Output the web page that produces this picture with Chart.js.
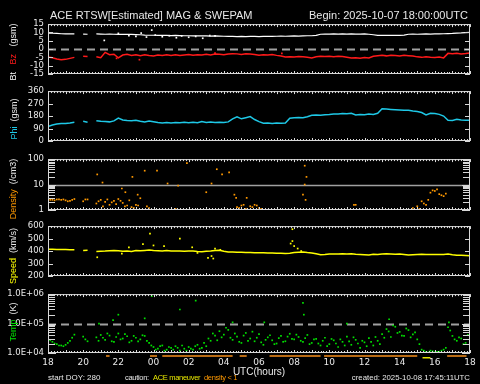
<!DOCTYPE html>
<html>
<head>
<meta charset="utf-8">
<script src="https://cdn.jsdelivr.net/npm/chart.js@4.4.1/dist/chart.umd.min.js"></script>
<style>
html, body { margin: 0; padding: 0; background: #000; }
#wrap { position: relative; width: 480px; height: 384px; overflow: hidden; background: #000;
        font-family: "Liberation Sans", Arial, sans-serif; color: #e8e8e8; }
canvas { position: absolute; left: 0; }
.t { position: absolute; white-space: pre; line-height: 1; }
.k { letter-spacing: -0.3px; font-size: 7.5px; }
.yl { position: absolute; white-space: pre; line-height: 1; font-size: 9px;
      transform: translate(-50%, -50%) rotate(-90deg); }
</style>
</head>
<body>
<div id="wrap">
  <canvas id="pMag"></canvas>
  <canvas id="pPhi"></canvas>
  <canvas id="pDen"></canvas>
  <canvas id="pSpd"></canvas>
  <canvas id="pTmp"></canvas>

  <div class="t" style="left:50px; top:10px; font-size:11px;">ACE RTSW[Estimated] MAG &amp; SWEPAM</div>
  <div class="t" style="right:12px; top:10px; font-size:11px;">Begin: 2025-10-07 18:00:00UTC</div>

  <div class="yl" style="left:13px; top:52px;"><span style="color:#fff">Bt</span>   <span style="color:#ff1a1a">Bz</span>   (gsm)</div>
  <div class="yl" style="left:14px; top:119px;"><span style="color:#1ec8e6">Phi</span>  (gsm)</div>
  <div class="yl" style="left:13px; top:189px;"><span style="color:#ff9900">Density</span>  (/cm3)</div>
  <div class="yl" style="left:13px; top:256px;"><span style="color:#ffff00">Speed</span>  (km/s)</div>
  <div class="yl" style="left:13px; top:322px;"><span style="color:#00e000">Temp</span>  (K)</div>

  <div class="t" style="left:259px; top:367px; font-size:10px; transform:translateX(-50%);">UTC(hours)</div>
  <div class="t" style="left:48px; top:374px; font-size:8px;">start DOY: 280</div>
  <div class="t k" style="left:125px; top:374px;">caution:</div>
  <div class="t k" style="left:153px; top:374px; color:#e6e600;">ACE maneuver</div>
  <div class="t k" style="left:204px; top:374px; color:#ff9900;">density &lt; 1</div>
  <div class="t" style="right:10px; top:374px; font-size:7.8px;">created: 2025-10-08 17:45:11UTC</div>
</div>

<script>
// hours after 2025-10-07 18:00 UTC; samples every 15 min
const STEP_H = 0.25;
const HALF_STEP = 0.125;

const xTickHours = [0, 2, 4, 6, 8, 10, 12, 14, 16, 18, 20, 22, 24];
const xTickLabels = ['18', '20', '22', '00', '02', '04', '06', '08', '10', '12', '14', '16', '18'];

const magTicks = [-15, -10, -5, 0, 5, 10, 15];
const phiTicks = [0, 90, 180, 270, 360];
const densityTicks = [1, 10, 100];
const densityMinor = [2, 3, 4, 5, 6, 7, 8, 9, 20, 30, 40, 50, 60, 70, 80, 90];
const speedTicks = [200, 300, 400, 500, 600];
const tempTicks = [1e4, 1e5, 1e6];
const tempTickLabels = ['1.0E+04', '1.0E+05', '1.0E+06'];
const tempMinor = [2e4, 3e4, 4e4, 5e4, 6e4, 7e4, 8e4, 9e4, 2e5, 3e5, 4e5, 5e5, 6e5, 7e5, 8e5, 9e5];

// Bt (nT)
const btVals = [9.6, 9.5, 9.4, 9.2, 9.1, 9.2, 9.1, null, 9.0, 8.9, null, 9.1,
  9.0, 8.9, 9.0, 8.9, 8.8, 8.9, 8.8, 8.8, 8.7, 8.6, 8.4, 8.3,
  8.3, 8.2, 8.3, 8.2, 8.1, 8.2, 8.1, 8.0, 8.0, 7.9, 8.0, 7.9,
  7.9, 7.8, 7.9, 7.8, 7.7, 7.6, 7.6, 7.5, 7.6, 7.5, 7.6, 7.6,
  7.5, 7.6, 7.7, 7.6, 7.7, 7.8, 7.7, 7.8, 7.9, 7.8, 7.9, 8.0,
  8.0, 8.2, 8.9, 9.0, 9.0, 9.1, 9.0, 9.1, 9.0, 9.1, 9.0, 9.0,
  9.1, 8.9, 8.6, 8.2, 8.2, 8.3, 8.2, 8.3, 8.2, 8.4, 8.9, 9.0,
  8.9, 9.0, 9.1, 9.0, 9.1, 9.1, 9.2, 9.3, 9.4, 9.6, 9.7, 9.9, 10.0];
// Bz gsm (nT)
const bzVals = [-4.7, -5.2, -6.0, -6.4, -6.2, -5.6, -5.0, null, -4.3, -4.5, null, -4.6,
  -5.2, -2.0, -3.4, -3.1, -5.3, -3.6, -3.2, -3.8, -3.4, -4.0, -3.5, -3.9,
  -4.2, -3.6, -3.9, -3.5, -3.8, -3.4, -3.9, -3.6, -3.3, -3.7, -3.4, -3.6,
  -3.2, -3.5, -3.0, -3.1, -3.4, -3.0, -2.8, -2.9, -3.2, -2.8, -3.0, -3.3,
  -3.7, -3.4, -3.6, -3.3, -3.8, -4.2, -4.8, -4.6, -4.8, -4.5, -4.7, -4.9,
  -5.4, -4.6, -4.4, -4.5, -4.3, -4.6, -4.4, -4.5, -4.9, -5.4, -5.2, -5.5,
  -5.1, -5.4, -4.3, -4.0, -3.8, -4.1, -3.7, -3.9, -4.2, -3.8, -4.0, -4.2,
  -4.7, -5.0, -4.6, -4.9, -5.1, -4.8, -5.3, -2.6, -2.8, -2.5, -2.9, -2.7, -2.4];
const btStray = [[3.2, 5.2], [4.0, 9.4], [4.6, 8.1], [5.0, 7.6], [5.3, 9.6], [5.6, 7.2], [5.9, 11.4],
  [6.1, 8.4], [6.5, 7.4], [6.9, 8.0], [7.3, 6.8], [7.6, 7.9], [8.0, 7.1], [8.4, 7.6], [8.8, 6.5],
  [9.2, 8.1], [9.5, 7.9]];
const bzStray = [[3.9, -5.6], [5.2, -6.4], [9.5, -2.4], [13.3, -2.6]];

// Phi gsm (deg)
const phiVals = [105, 115, 122, 127, 126, 130, 136, null, 142, 135, null, 146,
  142, 140, 138, 145, 165, 152, 148, 146, 150, 143, 138, 145,
  139, 133, 130, 133, 130, 134, 131, 135, 132, 135, 132, 140,
  134, 137, 133, 136, 133, 138, 160, 175, 160, 168, 176, 155,
  140, 128, 130, 127, 129, 128, 130, 165, 168, 170, 168, 175,
  185, 188, 186, 190, 192, 195, 194, 198, 197, 200, 188, 192,
  190, 195, 192, 200, 232, 230, 228, 226, 224, 222, 221, 216,
  212, 205, 188, 200, 198, 192, 180, 150, 148, 156, 152, 150, 150];

// proton density (/cm3); 0.5 = below the plotted range
const densA = [2.4, 2.5, 2.6, 2.5, 2.4, 2.3, 2.7, null, 2.2, 2.6, null, 1.8,
  2.5, 2.1, 1.6, 2.3, 2.7, 1.9, 1.5, 1.3, 1.6, 2.9, 0.5, 1.2,
  0.5, 0.5, 0.5, 0.5, 0.5, 1.1, 0.5, 0.5, 0.5, 0.5, 0.5, 0.5,
  0.5, 0.5, 0.5, 0.5, 0.5, 0.5, 0.5, 1.3, 1.5, 1.1, 1.4, 1.6,
  1.2, 1.0, 0.5, 0.5, 0.5, 0.5, 0.5, 0.5, 0.5, 0.5, 0.5, 0.5,
  0.5, 0.5, 0.5, 0.5, 0.5, 0.5, 0.5, 0.5, 0.5, 0.5, 1.6, 0.5,
  0.5, 0.5, 0.5, 0.5, 0.5, 0.5, 0.5, 0.5, 0.5, 0.5, 0.5, 1.2,
  1.4, 2.2, 1.6, 4.8, 5.6, 4.2, 3.5, 0.5, 0.5, 0.5, 0.5, 0.5, 0.5];
const densB = [2.5, 2.4, 2.6, 2.6, 2.2, 2.5, null, null, 2.6, null, null, 2.2,
  1.4, 2.6, 2.0, 1.7, 2.3, 1.4, 2.4, 1.2, 1.5, 0.5, 1.4, 0.5,
  0.5, 0.5, 0.5, 0.5, 0.5, 0.5, 0.5, 0.5, 0.5, 0.5, 0.5, 0.5,
  0.5, 0.5, 0.5, 0.5, 0.5, 0.5, 0.5, 1.2, 1.6, 1.0, 1.3, 1.5,
  1.1, 0.5, 0.5, 0.5, 0.5, 0.5, 0.5, 0.5, 0.5, 0.5, 0.5, 0.5,
  0.5, 0.5, 0.5, 0.5, 0.5, 0.5, 0.5, 0.5, 0.5, 0.5, 0.5, 0.5,
  0.5, 0.5, 0.5, 0.5, 0.5, 0.5, 0.5, 0.5, 0.5, 0.5, 0.5, 0.5,
  1.1, 1.8, 2.5, 5.9, 6.5, 3.8, 4.4, 0.5, 0.5, 0.5, 0.5, 0.5, 0.5];
const densStray = [[2.8, 25], [3.1, 12], [4.2, 7], [4.4, 5], [4.8, 20], [5.1, 4], [5.5, 35], [6.2, 35],
  [6.8, 11], [7.4, 9], [7.9, 70], [9.0, 5], [9.3, 11], [9.6, 40], [9.9, 25], [10.3, 30], [10.6, 4],
  [10.7, 3], [11.3, 3], [14.5, 4], [14.6, 55], [14.6, 10], [14.65, 2.5], [14.7, 20], [17.4, 1.6]];

// bulk speed (km/s)
const speedVals = [415, 414, 413, 413, 412, 411, 410, null, 404, 406, null, 396,
  398, 400, 403, 405, 402, 398, 400, 396, 404, 402, 405, 408,
  404, 402, 400, 404, 401, 400, 401, 399, 401, 400, 396, 394,
  398, 400, 404, 407, 398, 393, 392, 391, 390, 389, 388, 387,
  387, 386, 385, 384, 383, 382, 381, 383, 388, 390, 392, 388,
  385, 378, 370, 372, 376, 377, 376, 378, 377, 378, 375, 373,
  371, 369, 375, 373, 376, 378, 376, 374, 376, 372, 368, 371,
  373, 374, 373, 373, 373, 372, 373, 376, 370, 367, 366, 364, 362];
const speedStray = [[2.8, 350], [4.2, 380], [4.6, 430], [5.4, 455], [5.8, 540], [6.0, 445], [6.6, 440],
  [7.5, 500], [8.2, 430], [8.5, 385], [9.1, 345], [9.3, 360], [9.4, 340], [9.5, 420], [9.8, 410],
  [13.8, 460], [13.9, 575], [13.9, 480], [14.0, 440], [14.2, 420], [14.4, 400]];

// ion temperature (K)
const tempA = [3.0e4, 2.4e4, 2.0e4, 1.8e4, 1.9e4, 2.6e4, 4.2e4, null, 3.6e4, 2.5e4, null, 3.4e4,
  4.1e4, 2.8e4, 3.9e4, 2.4e4, 4.6e4, 3.1e4, 3.7e4, 2.6e4, 3.3e4, 2.9e4, 3.8e4, 2.2e4,
  1.6e4, 1.4e4, 1.8e4, 1.3e4, 1.5e4, 1.7e4, 1.2e4, 1.4e4, 1.6e4, 1.3e4, 1.9e4, 1.5e4,
  1.7e4, 2.6e4, 3.9e4, 5.5e4, 4.2e4, 6.1e4, 2.8e4, 3.6e4, 2.2e4, 4.8e4, 3.1e4, 2.5e4,
  4.4e4, 1.9e4, 3.4e4, 2.7e4, 2.1e4, 3.8e4, 2.5e4, 4.5e4, 2.9e4, 3.5e4, 2.4e4, 4.1e4,
  2.2e4, 3.0e4, 1.8e4, 3.3e4, 2.0e4, 2.7e4, 1.6e4, 2.4e4, 3.6e4, 1.9e4, 2.8e4, 1.5e4,
  2.3e4, 3.2e4, 1.8e4, 2.6e4, 4.4e4, 6.5e4, 3.5e4, 7.8e4, 5.2e4, 3.8e4, 6.0e4, 4.3e4,
  2.9e4, 1.3e4, 1.1e4, 1.2e4, 1.05e4, 1.1e4, 1.3e4, 7.5e4, 3.8e4, 2.6e4, 3.1e4, 2.2e4, 3.6e4];
const tempB = [2.7e4, 2.1e4, 1.8e4, 1.7e4, 2.2e4, 3.3e4, null, null, 2.9e4, null, null, 2.6e4,
  3.3e4, 4.6e4, 2.5e4, 3.5e4, 2.9e4, 4.4e4, 2.3e4, 3.8e4, 2.5e4, 4.0e4, 2.6e4, 1.8e4,
  1.3e4, 1.7e4, 1.2e4, 1.6e4, 1.3e4, 1.5e4, 1.8e4, 1.2e4, 1.4e4, 1.7e4, 1.4e4, 2.2e4,
  3.1e4, 4.6e4, 2.7e4, 3.4e4, 7.2e4, 3.3e4, 4.6e4, 2.4e4, 3.9e4, 2.6e4, 5.3e4, 3.3e4,
  2.3e4, 2.8e4, 4.0e4, 2.0e4, 3.2e4, 2.4e4, 3.6e4, 3.0e4, 4.2e4, 2.6e4, 3.2e4, 2.0e4,
  2.9e4, 2.1e4, 2.6e4, 1.7e4, 3.0e4, 2.1e4, 2.9e4, 1.8e4, 2.5e4, 3.4e4, 2.1e4, 2.6e4,
  1.7e4, 2.4e4, 3.5e4, 2.0e4, 3.3e4, 5.4e4, 8.6e4, 4.8e4, 3.9e4, 6.8e4, 3.4e4, 5.0e4,
  2.0e4, 1.2e4, 1.05e4, 1.15e4, 1.1e4, 1.2e4, 1.5e4, 5.8e4, 2.9e4, 3.4e4, 2.0e4, 4.1e4, null];
const tempStray = [[2.9, 1.0e5], [3.7, 1.3e5], [4.0, 2.0e5], [5.5, 1.5e5], [5.9, 8.5e5], [7.5, 3.0e5],
  [8.4, 6.0e5], [10.5, 1.1e5], [12.3, 1.1e5], [14.5, 5.0e5], [14.55, 2.0e5], [17.0, 1.0e5],
  [19.4, 1.4e5], [22.8, 1.1e5]];

// caution bars under the time axis, [start, end] in hours
const lowDensitySpans = [[3.3, 3.5], [5.8, 6.2], [6.5, 10.5], [10.9, 11.3], [12.6, 15.5], [15.7, 21.0], [22.7, 23.8]];
const maneuverSpans = [[21.3, 21.75]];

const TXT = '#e8e8e8';
const FRAME = '#d8d8d8';
const REF = '#a0a0a0';
const TICK_FONT = { family: 'DejaVu Sans', size: 8.5 };

function toPoints(vals, offset) {
  return vals.map((v, i) => ({ x: i * STEP_H + offset, y: v }));
}
function pairs(list) {
  return list.map(([x, y]) => ({ x, y }));
}
function lineSet(vals, color, width) {
  return { data: toPoints(vals, 0), showLine: true, spanGaps: false, borderColor: color,
    borderWidth: width, pointRadius: 0, order: 1 };
}
function dotSet(data, color) {
  return { data, showLine: false, pointStyle: 'rect', pointRadius: 1.2, borderWidth: 0,
    backgroundColor: color, order: 2 };
}

const framePlugin = {
  id: 'frame',
  afterDatasetsDraw(chart, args, opts) {
    const { ctx, chartArea: a, scales } = chart;
    ctx.save();
    ctx.strokeStyle = FRAME;
    ctx.lineWidth = 1;
    ctx.strokeRect(a.left + 0.5, a.top + 0.5, a.right - a.left - 1, a.bottom - a.top - 1);
    ctx.beginPath();
    const yTick = (v, len) => {
      const y = Math.round(scales.y.getPixelForValue(v)) + 0.5;
      ctx.moveTo(a.left, y); ctx.lineTo(a.left + len, y);
      ctx.moveTo(a.right, y); ctx.lineTo(a.right - len, y);
    };
    (opts.major || []).forEach(v => yTick(v, opts.majorLen || 5));
    (opts.minor || []).forEach(v => yTick(v, opts.minorLen || 5));
    for (let m = 0; m <= 24 * 60; m += 10) {
      const x = Math.round(scales.x.getPixelForValue(m / 60)) + 0.5;
      const len = m % 60 === 0 ? 3 : 2;
      ctx.moveTo(x, a.top); ctx.lineTo(x, a.top + len);
      ctx.moveTo(x, a.bottom); ctx.lineTo(x, a.bottom - len);
    }
    ctx.stroke();
    ctx.restore();
  }
};

const refLinePlugin = {
  id: 'refLine',
  beforeDatasetsDraw(chart, args, opts) {
    if (!opts.lines) return;
    const { ctx, chartArea: a, scales } = chart;
    ctx.save();
    opts.lines.forEach(l => {
      const y = Math.round(scales.y.getPixelForValue(l.value)) + 0.5;
      ctx.strokeStyle = REF;
      ctx.lineWidth = l.width || 1;
      ctx.setLineDash(l.dash || []);
      ctx.beginPath();
      ctx.moveTo(a.left, y); ctx.lineTo(a.right, y);
      ctx.stroke();
    });
    ctx.restore();
  }
};

const cautionPlugin = {
  id: 'caution',
  afterDraw(chart) {
    const { ctx, chartArea: a, scales } = chart;
    const x = scales.x;
    ctx.save();
    ctx.fillStyle = '#b86a14';
    lowDensitySpans.forEach(([s, e]) => {
      const x0 = x.getPixelForValue(s), x1 = x.getPixelForValue(e);
      ctx.fillRect(x0, a.bottom + 2, x1 - x0, 2);
    });
    ctx.fillStyle = '#e6e600';
    maneuverSpans.forEach(([s, e]) => {
      const x0 = x.getPixelForValue(s), x1 = x.getPixelForValue(e);
      ctx.fillRect(x0, a.bottom + 4, x1 - x0, 1.5);
    });
    ctx.restore();
  }
};

function yAxis(type, min, max, ticks, labels) {
  return {
    type, min, max,
    afterBuildTicks: axis => { axis.ticks = ticks.map(v => ({ value: v })); },
    afterFit: axis => { axis.width = 48; },
    ticks: { color: TXT, font: TICK_FONT, padding: 4, autoSkip: false,
      callback: (v, i) => labels ? labels[i] : String(v) },
    grid: { display: false, drawTicks: false },
    border: { display: false }
  };
}

function makePanel(id, top, height, last, y, datasets, pluginOpts, extraPlugins) {
  const cv = document.getElementById(id);
  const canvasTop = top - 8;
  const canvasH = last ? 384 - canvasTop : height + 16;
  cv.width = 480;
  cv.height = canvasH;
  cv.style.top = canvasTop + 'px';
  new Chart(cv, {
    type: 'scatter',
    data: { datasets },
    options: {
      responsive: false,
      animation: false,
      events: [],
      layout: { padding: { top: 8, bottom: last ? 0 : 8, left: 0, right: 10 } },
      plugins: Object.assign({ legend: { display: false }, tooltip: { enabled: false } }, pluginOpts),
      scales: {
        x: {
          type: 'linear', min: 0, max: 24, display: last,
          afterBuildTicks: axis => { axis.ticks = xTickHours.map(v => ({ value: v })); },
          afterFit: axis => { axis.height = canvasH - 8 - height; },
          ticks: { color: TXT, font: { family: 'DejaVu Sans', size: 9 }, padding: 4,
            autoSkip: false, maxRotation: 0, callback: (v, i) => xTickLabels[i] },
          grid: { display: false, drawTicks: false },
          border: { display: false }
        },
        y
      }
    },
    plugins: [refLinePlugin, framePlugin].concat(extraPlugins || [])
  });
}

makePanel('pMag', 23, 59, false, yAxis('linear', -15, 15, magTicks), [
  lineSet(bzVals, '#ff1a1a', 1.5),
  lineSet(btVals, '#ffffff', 1.2),
  dotSet(pairs(btStray), '#ffffff'),
  dotSet(pairs(bzStray), '#ff1a1a')
], { frame: { major: magTicks, majorLen: 5 }, refLine: { lines: [{ value: 0, dash: [8, 5], width: 2 }] } });

makePanel('pPhi', 90, 59, false, yAxis('linear', 0, 360, phiTicks), [
  lineSet(phiVals, '#1ec8e6', 1.5)
], { frame: { major: phiTicks, majorLen: 5 } });

makePanel('pDen', 158, 60, false, yAxis('logarithmic', 1, 100, densityTicks), [
  dotSet(toPoints(densA, 0), '#ff9900'),
  dotSet(toPoints(densB, HALF_STEP), '#ff9900'),
  dotSet(pairs(densStray), '#ff9900')
], { frame: { major: densityTicks, majorLen: 8, minor: densityMinor, minorLen: 7 },
     refLine: { lines: [{ value: 10, width: 1.5 }] } });

makePanel('pSpd', 225, 59, false, yAxis('linear', 200, 600, speedTicks), [
  lineSet(speedVals, '#ffff00', 1.5),
  dotSet(pairs(speedStray), '#ffff00')
], { frame: { major: speedTicks, majorLen: 5 } });

makePanel('pTmp', 293, 60, true, yAxis('logarithmic', 1e4, 1e6, tempTicks, tempTickLabels), [
  dotSet(toPoints(tempA, 0), '#00e000'),
  dotSet(toPoints(tempB, HALF_STEP), '#00e000'),
  dotSet(pairs(tempStray), '#00e000')
], { frame: { major: tempTicks, majorLen: 8, minor: tempMinor, minorLen: 7 },
     refLine: { lines: [{ value: 1e5, dash: [8, 5], width: 2 }] } }, [cautionPlugin]);
</script>
</body>
</html>
